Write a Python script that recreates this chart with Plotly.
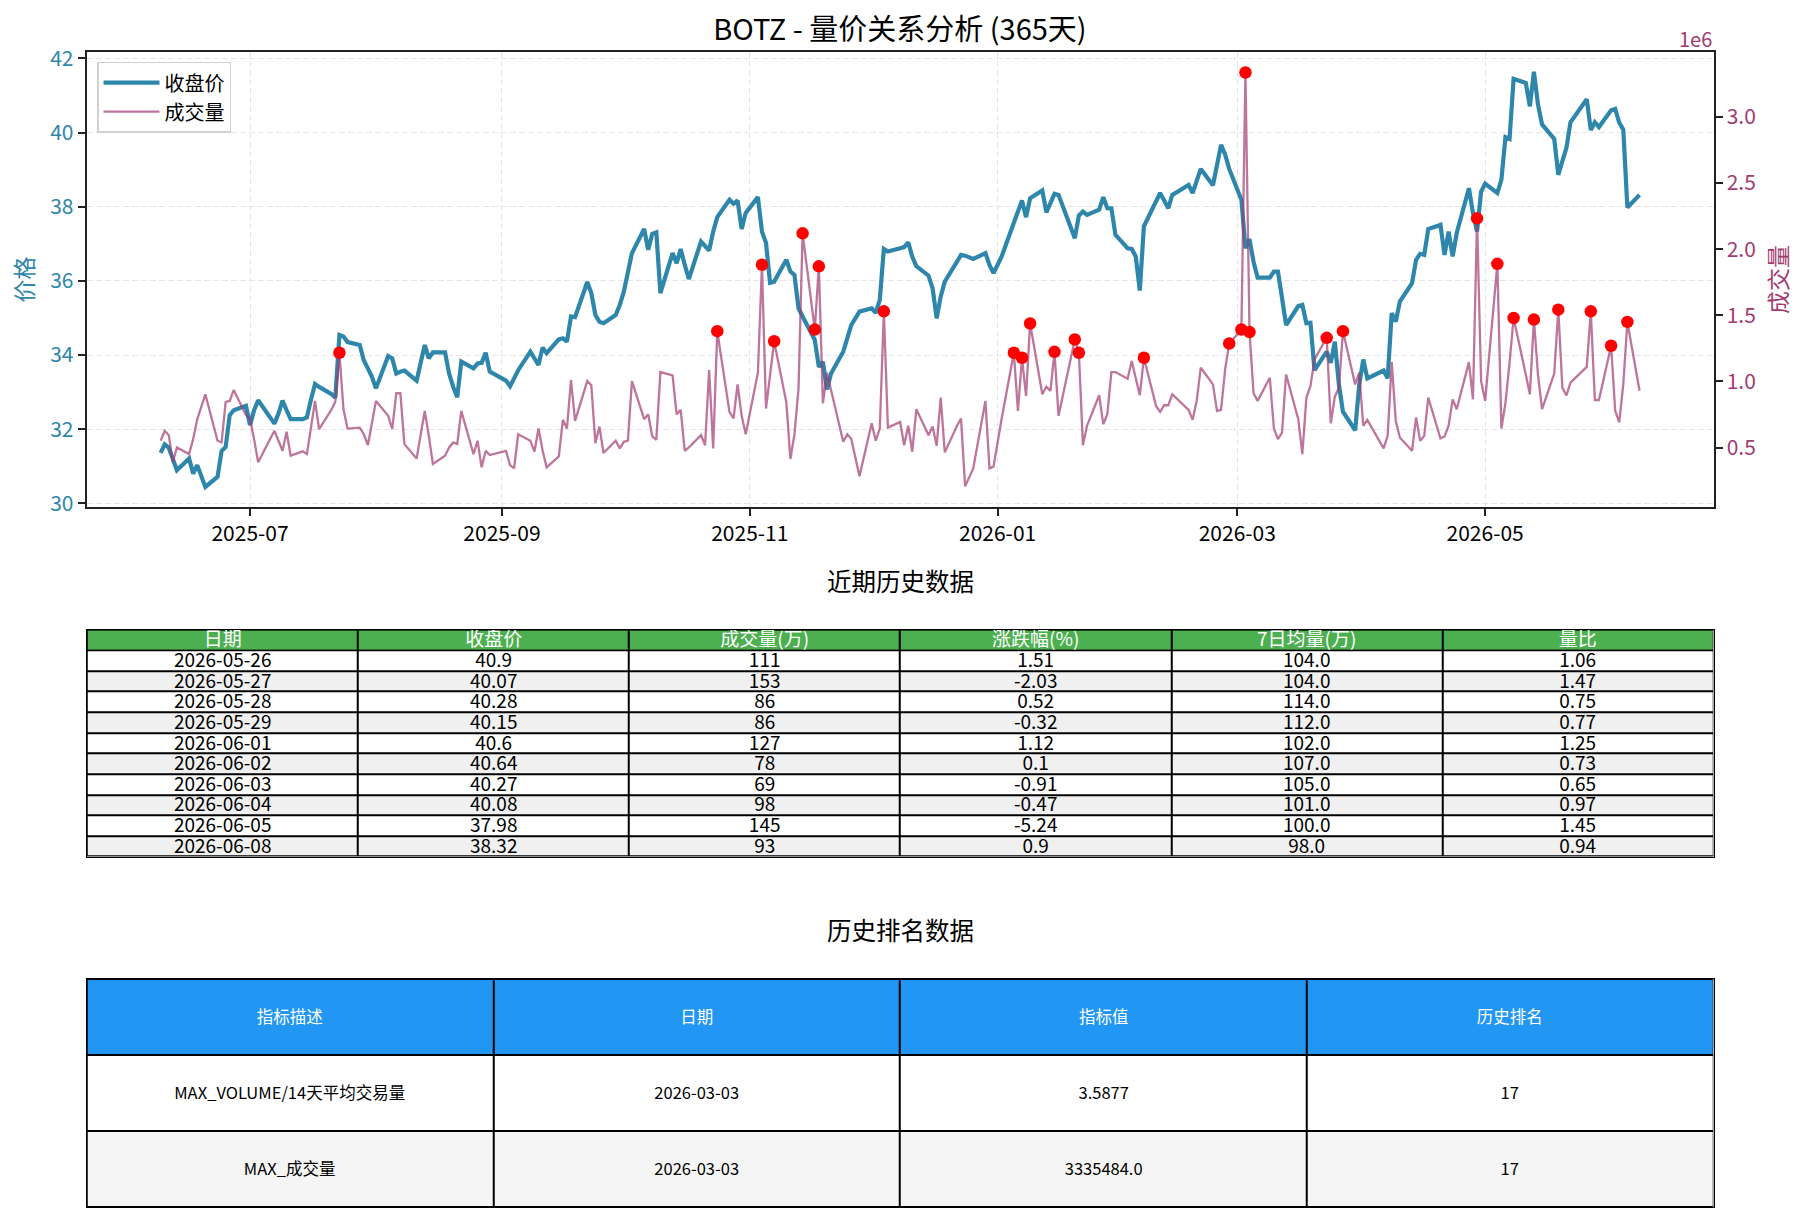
import pandas as pd
import plotly.graph_objects as go

FONT = "Noto Sans CJK SC, Noto Sans, sans-serif"
W, H = 1808, 1222

# ---------------- data ----------------
market_holidays = ["2025-06-19", "2025-07-04", "2025-09-01", "2025-11-27", "2025-12-25",
                   "2026-01-01", "2026-01-19", "2026-02-16", "2026-04-03", "2026-05-25"]
trade_dates = [d for d in pd.bdate_range("2025-06-09", "2026-06-08")
               if d.strftime("%Y-%m-%d") not in market_holidays]

close_price = [
    # 2025-06
    31.36, 31.59, 31.50, 31.21, 30.89, 31.21, 30.80, 31.03, 30.44, 30.71, 31.41, 31.52, 32.38, 32.51, 32.63,
    # 2025-07
    32.11, 32.51, 32.78, 32.15, 32.42, 32.77, 32.51, 32.27, 32.27, 32.32, 32.80, 33.22, 33.14, 32.95, 32.85,
    34.54, 34.50, 34.35, 34.27, 33.86, 33.64, 33.41,
    # 2025-08
    33.10, 33.97, 33.91, 33.50, 33.55, 33.58, 33.31, 33.86, 34.27, 33.91, 34.07, 34.07, 33.50, 33.14, 32.86,
    33.82, 33.64, 33.77, 33.79, 34.06, 33.55,
    # 2025-09
    33.31, 33.16, 33.37, 33.59, 34.09, 33.91, 33.73, 34.20, 34.05, 34.42, 34.45, 34.36, 35.04, 35.02, 35.97,
    35.67, 35.08, 34.90, 34.86, 35.08, 35.35,
    # 2025-10
    35.71, 36.21, 36.75, 37.40, 36.84, 37.27, 37.31, 35.67, 36.75, 36.48, 36.86, 36.43, 36.05, 37.06, 36.93,
    36.82, 37.33, 37.72, 38.19, 38.08, 38.17, 37.40, 37.83,
    # 2025-11
    38.26, 37.33, 37.02, 35.95, 35.98, 36.57, 36.25, 36.16, 35.26, 35.04, 34.41, 33.68, 33.82, 33.07, 33.50,
    34.09, 34.45, 34.81, 35.17,
    # 2025-12
    35.26, 35.14, 35.49, 36.86, 36.79, 36.88, 36.91, 37.04, 36.65, 36.40, 36.14, 35.80, 34.99, 35.58, 35.98,
    36.52, 36.70, 36.68, 36.59, 36.75, 36.43, 36.21,
    # 2026-01
    36.66, 37.57, 37.87, 38.17, 37.72, 38.23, 38.44, 37.85, 38.10, 38.35, 38.32, 37.15, 37.76, 37.87, 37.78,
    37.92, 38.26, 37.96, 37.96, 37.24,
    # 2026-02
    36.88, 36.86, 36.66, 35.74, 37.47, 38.14, 38.37, 38.17, 37.96, 38.32, 38.59, 38.37, 38.73, 39.02, 38.58,
    39.17, 39.67, 39.41, 39.02,
    # 2026-03
    38.19, 36.88, 37.13, 36.51, 36.09, 36.09, 36.25, 36.25, 35.54, 34.81, 35.32, 35.35, 34.86, 34.87, 33.59,
    34.09, 33.79, 34.36, 33.20, 32.47, 31.97, 33.19,
    # 2026-04
    33.88, 33.37, 33.58, 33.37, 35.13, 34.90, 35.44, 35.94, 36.57, 36.73, 36.70, 37.40, 37.51, 36.70, 37.33,
    36.66, 37.29, 38.50, 37.83, 37.33, 38.41,
    # 2026-05
    38.62, 38.37, 38.73, 39.88, 39.83, 41.45, 41.34, 40.71, 41.64, 40.76, 40.22, 39.83, 38.86, 39.23, 39.59,
    40.28, 40.90, 40.07, 40.28, 40.15,
    # 2026-06
    40.60, 40.64, 40.27, 40.08, 37.98, 38.32,
]

volume_millions = [
    # 2025-06
    0.552, 0.627, 0.594, 0.389, 0.501, 0.451, 0.564, 0.714, 0.903, 0.552, 0.539, 0.846, 0.853, 0.936, 0.745,
    # 2025-07
    0.715, 0.564, 0.389, 0.627, 0.552, 0.476, 0.620, 0.439, 0.472, 0.451, 0.651, 0.853, 0.639, 0.785, 0.848,
    1.217, 0.790, 0.644, 0.651, 0.601, 0.518, 0.690,
    # 2025-08
    0.853, 0.740, 0.639, 0.911, 0.911, 0.526, 0.418, 0.597, 0.777, 0.590, 0.376, 0.439, 0.501, 0.539, 0.526,
    0.777, 0.451, 0.552, 0.351, 0.476, 0.444,
    # 2025-09
    0.476, 0.368, 0.343, 0.601, 0.552, 0.469, 0.644, 0.480, 0.351, 0.434, 0.710, 0.644, 1.011, 0.702, 1.003,
    0.971, 0.534, 0.659, 0.459, 0.552, 0.494,
    # 2025-10
    0.544, 0.552, 1.003, 0.715, 0.752, 0.584, 0.559, 1.071, 1.046, 0.752, 0.785, 0.476, 0.501, 0.594, 0.518,
    1.086, 0.494, 1.380, 0.770, 0.720, 0.978, 0.740, 0.601,
    # 2025-11
    1.066, 1.882, 0.795, 1.040, 1.304, 0.840, 0.414, 0.601, 0.950, 2.120, 1.392, 1.870, 0.835, 1.066, 0.940,
    0.544, 0.601, 0.564, 0.283,
    # 2025-12
    0.684, 0.552, 0.644, 1.530, 0.651, 0.694, 0.518, 0.665, 0.469, 0.790, 0.594, 0.659, 0.513, 0.878, 0.464,
    0.665, 0.719, 0.207, 0.343, 0.853, 0.343, 0.358,
    # 2026-01
    0.720, 1.217, 0.777, 1.179, 0.890, 1.438, 0.903, 0.961, 0.928, 1.224, 0.740, 1.317, 1.217, 0.519, 0.665,
    0.896, 0.677, 0.752, 1.071, 1.071,
    # 2026-02
    1.021, 1.154, 1.020, 0.896, 1.179, 0.815, 0.770, 0.820, 0.820, 0.903, 0.785, 0.710, 0.853, 1.104, 0.978,
    0.777, 0.785, 1.091, 1.287,
    # 2026-03
    1.393, 3.335484, 1.373, 0.910, 0.853, 1.028, 0.644, 0.564, 0.614, 1.053, 0.715, 0.451, 0.878, 0.966, 1.167,
    1.330, 0.684, 0.885, 0.953, 1.380, 0.978, 1.066,
    # 2026-04
    0.665, 0.710, 0.494, 0.589, 1.146, 0.702, 0.577, 0.476, 0.727, 0.551, 0.589, 0.878, 0.569, 0.584, 0.665,
    0.865, 0.790, 1.146, 0.865, 2.233, 1.003,
    # 2026-05
    0.853, 1.889, 0.644, 0.840, 1.140, 1.480, 1.053, 0.903, 1.468, 1.050, 0.790, 1.060, 1.543, 0.953, 0.895,
    0.991, 1.110, 1.530, 0.860, 0.860,
    # 2026-06
    1.270, 0.780, 0.690, 0.980, 1.450, 0.930,
]

spike_dates = ["2025-07-23", "2025-10-24", "2025-11-04", "2025-11-07", "2025-11-14", "2025-11-17",
               "2025-11-18", "2025-12-04", "2026-01-05", "2026-01-07", "2026-01-09", "2026-01-15",
               "2026-01-20", "2026-01-21", "2026-02-06", "2026-02-27", "2026-03-02", "2026-03-03",
               "2026-03-04", "2026-03-23", "2026-03-27", "2026-04-29", "2026-05-04", "2026-05-08",
               "2026-05-13", "2026-05-19", "2026-05-27", "2026-06-01", "2026-06-05"]

x_ticks = ["2025-07-01", "2025-09-01", "2025-11-01", "2026-01-01", "2026-03-01", "2026-05-01"]
price_ticks = [30, 32, 34, 36, 38, 40, 42]
volume_ticks = [0.5e6, 1.0e6, 1.5e6, 2.0e6, 2.5e6, 3.0e6]
volume_tick_text = ["0.5", "1.0", "1.5", "2.0", "2.5", "3.0"]

# recent history table
recent_headers = ["日期", "收盘价", "成交量(万)", "涨跌幅(%)", "7日均量(万)", "量比"]
recent_dates = ["2026-05-26", "2026-05-27", "2026-05-28", "2026-05-29", "2026-06-01",
                "2026-06-02", "2026-06-03", "2026-06-04", "2026-06-05", "2026-06-08"]
recent_close = [40.9, 40.07, 40.28, 40.15, 40.6, 40.64, 40.27, 40.08, 37.98, 38.32]
recent_volume_wan = [111, 153, 86, 86, 127, 78, 69, 98, 145, 93]
recent_change_pct = [1.51, -2.03, 0.52, -0.32, 1.12, 0.1, -0.91, -0.47, -5.24, 0.9]
recent_avg7_wan = [104.0, 104.0, 114.0, 112.0, 102.0, 107.0, 105.0, 101.0, 100.0, 98.0]
recent_volume_ratio = [1.06, 1.47, 0.75, 0.77, 1.25, 0.73, 0.65, 0.97, 1.45, 0.94]

# ranking table
rank_headers = ["指标描述", "日期", "指标值", "历史排名"]
rank_desc = ["MAX_VOLUME/14天平均交易量", "MAX_成交量"]
rank_date = ["2026-03-03", "2026-03-03"]
rank_value = [3.5877, 3335484.0]
rank_position = [17, 17]

assert len(trade_dates) == len(close_price) == len(volume_millions)

volume = [v * 1e6 for v in volume_millions]
vol_by_date = {d.strftime("%Y-%m-%d"): v for d, v in zip(trade_dates, volume)}
spike_volume = [vol_by_date[d] for d in spike_dates]


# ---------------- layout geometry (pixels -> paper) ----------------
def px_x(p):
    return p / W


def px_y(p):
    return 1 - p / H


plot_x = [px_x(86.7), px_x(1713.5)]
plot_y = [px_y(507.0), px_y(51.8)]
tab1_y = [px_y(856.7), px_y(629.6)]
tab2_y = [px_y(1207.0), px_y(979.0)]

BLUE = "#2E86AB"
PURPLE = "#A23B72"

fig = go.Figure()
fig.add_trace(go.Scatter(x=trade_dates, y=close_price, mode="lines", name="收盘价",
                         line=dict(color=BLUE, width=4.2), xaxis="x", yaxis="y"))
fig.add_trace(go.Scatter(x=trade_dates, y=volume, mode="lines", name="成交量",
                         line=dict(color="rgba(162,59,114,0.7)", width=2.3), xaxis="x", yaxis="y2"))
fig.add_trace(go.Scatter(x=spike_dates, y=spike_volume, mode="markers", showlegend=False,
                         marker=dict(color="red", size=12.5, line=dict(width=0)), xaxis="x", yaxis="y2"))


def add_grid_table(headers, columns, xa, ya, header_color, stripe, font_size):
    n_cols = len(headers)
    n_rows = len(columns[0])
    col_idx = list(range(n_cols))
    body_rows = list(range(1, n_rows + 1))
    body_text = [[str(columns[c][r]) for c in range(n_cols)] for r in range(n_rows)]
    # black underlay -> visible as cell borders through the gaps
    fig.add_trace(go.Heatmap(x=col_idx, y=[0] + body_rows, z=[[0] * n_cols for _ in range(n_rows + 1)],
                             colorscale=[[0, "black"], [1, "black"]], showscale=False,
                             hoverinfo="skip", xaxis=xa, yaxis=ya))
    fig.add_trace(go.Heatmap(x=col_idx, y=[0], z=[[1] * n_cols],
                             colorscale=[[0, header_color], [1, header_color]], showscale=False,
                             text=[list(headers)], texttemplate="%{text}",
                             textfont=dict(family=FONT, size=font_size, color="white"),
                             xgap=2, ygap=2, hoverinfo="skip", xaxis=xa, yaxis=ya))
    fig.add_trace(go.Heatmap(x=col_idx, y=body_rows, z=[[r % 2] * n_cols for r in range(n_rows)],
                             colorscale=[[0, "white"], [1, stripe]], zmin=0, zmax=1, showscale=False,
                             text=body_text, texttemplate="%{text}",
                             textfont=dict(family=FONT, size=font_size, color="black"),
                             xgap=2, ygap=2, hoverinfo="skip", xaxis=xa, yaxis=ya))
    return n_cols, n_rows


recent_columns = [recent_dates, recent_close, recent_volume_wan, recent_change_pct,
                  recent_avg7_wan, recent_volume_ratio]
n1c, n1r = add_grid_table(recent_headers, recent_columns, "x2", "y3", "#4CAF50", "#f0f0f0", 19)

rank_columns = [rank_desc, rank_date, rank_value, rank_position]
n2c, n2r = add_grid_table(rank_headers, rank_columns, "x3", "y4", "#2196F3", "#f5f5f5", 16.5)

grid = dict(showgrid=True, gridcolor="#e6e6e6", gridwidth=1.4, griddash="6px,3px")
table_axis = dict(showgrid=False, zeroline=False, showticklabels=False, ticks="",
                  showline=True, mirror=True, linecolor="black", linewidth=1.2,
                  automargin=False, fixedrange=True)

fig.update_layout(
    width=W, height=H,
    margin=dict(l=0, r=0, t=0, b=0, autoexpand=False),
    paper_bgcolor="white", plot_bgcolor="white",
    font=dict(family=FONT, size=20, color="black"),
    title=dict(text="BOTZ - 量价关系分析 (365天)", x=px_x(900), xanchor="center",
               y=px_y(30), yanchor="middle", font=dict(family=FONT, size=29, color="black")),
    xaxis=dict(domain=plot_x, anchor="y", type="date", automargin=False,
               range=["2025-05-21 19:12", "2026-06-26 04:48"],
               tickvals=x_ticks, tickformat="%Y-%m",
               ticks="outside", ticklen=7, tickwidth=1.6, tickcolor="#222",
               tickfont=dict(family=FONT, size=21, color="black"),
               showline=True, linecolor="#222", linewidth=2, mirror=True, zeroline=False, **grid),
    yaxis=dict(domain=plot_y, anchor="x", range=[29.9, 42.18], tickvals=price_ticks, automargin=False,
               ticks="outside", ticklen=7, tickwidth=1.6, tickcolor="#222",
               tickfont=dict(family=FONT, size=21, color=BLUE),
               title=dict(text="价格", font=dict(family=FONT, size=23, color=BLUE), standoff=10),
               showline=True, linecolor="#222", linewidth=2, mirror=True, zeroline=False, **grid),
    yaxis2=dict(overlaying="y", side="right", anchor="x", range=[0.051e6, 3.492e6], automargin=False,
                tickvals=volume_ticks, ticktext=volume_tick_text,
                ticks="outside", ticklen=7, tickwidth=1.6, tickcolor="#222",
                tickfont=dict(family=FONT, size=21, color=PURPLE),
                title=dict(text="成交量", font=dict(family=FONT, size=23, color=PURPLE), standoff=16),
                showline=True, linecolor="#222", linewidth=2, showgrid=False, zeroline=False),
    xaxis2=dict(domain=plot_x, anchor="y3", range=[-0.5, n1c - 0.5], **table_axis),
    yaxis3=dict(domain=tab1_y, anchor="x2", range=[n1r + 0.5, -0.5], **table_axis),
    xaxis3=dict(domain=plot_x, anchor="y4", range=[-0.5, n2c - 0.5], **table_axis),
    yaxis4=dict(domain=tab2_y, anchor="x3", range=[n2r + 0.5, -0.5], **table_axis),
    legend=dict(x=px_x(97), y=px_y(61.7), xanchor="left", yanchor="top",
                bgcolor="rgba(255,255,255,0.85)", bordercolor="#d0d0d0", borderwidth=1.5,
                itemwidth=56, font=dict(family=FONT, size=20, color="black")),
    annotations=[
        dict(text="1e6", x=px_x(1713.5), y=px_y(39), xref="paper", yref="paper",
             xanchor="right", yanchor="middle", showarrow=False,
             font=dict(family=FONT, size=20, color=PURPLE)),
        dict(text="近期历史数据", x=px_x(900.5), y=px_y(580), xref="paper", yref="paper",
             xanchor="center", yanchor="middle", showarrow=False,
             font=dict(family=FONT, size=24.5, color="black")),
        dict(text="历史排名数据", x=px_x(900.5), y=px_y(929.4), xref="paper", yref="paper",
             xanchor="center", yanchor="middle", showarrow=False,
             font=dict(family=FONT, size=24.5, color="black")),
    ],
)

fig.write_html("out.html")
